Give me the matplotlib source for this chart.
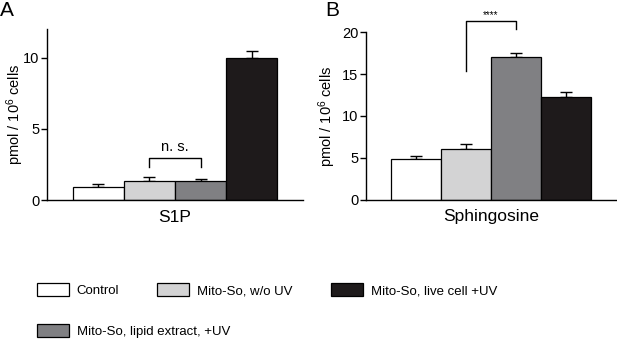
import matplotlib
matplotlib.use("Agg")
import matplotlib.pyplot as plt

plt.rcParams['font.family'] = ['Liberation Sans', 'DejaVu Sans']
plt.rcParams['mathtext.fontset'] = 'custom'
plt.rcParams['mathtext.rm'] = 'Liberation Sans'
plt.rcParams['mathtext.it'] = 'Liberation Sans:italic'
plt.rcParams['mathtext.bf'] = 'Liberation Sans:bold'

# groups / colours
groups = ["Control", "Mito-So, w/o UV", "Mito-So, lipid extract, +UV", "Mito-So, live cell +UV"]
colors = ["#ffffff", "#d3d3d4", "#808083", "#1e1a1b"]

# values (pmol / 10^6 cells)
s1p = [0.93, 1.33, 1.33, 10.0]
s1p_err = [0.17, 0.26, 0.12, 0.46]
sph = [4.83, 6.1, 17.08, 12.29]
sph_err = [0.32, 0.49, 0.52, 0.64]

W, H = 617, 341
fig = plt.figure(figsize=(W / 100, H / 100), dpi=100)


def px_axes(l, r, b, t):
    # pixel box -> figure fraction
    return fig.add_axes([l / W, (H - b) / H, (r - l) / W, (b - t) / H])


def draw_panel(ax, vals, errs, ylim, yticks, xlabel, ypad):
    x = list(range(len(vals)))
    bars = ax.bar(x, vals, width=1.0, color=colors, edgecolor="black", linewidth=0.9, zorder=2)
    ax.errorbar(x, vals, yerr=[[0] * len(errs), errs], fmt="none", ecolor="black",
                elinewidth=1, capsize=4, capthick=1, zorder=1)
    ax.set_xlim(-1.0, 4.0)
    ax.set_ylim(*ylim)
    ax.set_yticks(yticks)
    ax.set_xticks([])
    for s in ["top", "right"]:
        ax.spines[s].set_visible(False)
    ax.spines["left"].set_linewidth(1)
    ax.spines["bottom"].set_linewidth(1)
    ax.tick_params(axis="y", direction="out", length=4, width=1, labelsize=10.5, pad=1.5)
    ax.set_ylabel("pmol / 10$^{\\mathregular{6}}$ cells", fontsize=10.5, labelpad=ypad)
    ax.set_xlabel(xlabel, fontsize=12.5, labelpad=7)
    ax.patch.set_alpha(0)
    return bars


axA = px_axes(47, 303, 200, 29)
barsA = draw_panel(axA, s1p, s1p_err, (0, 12), [0, 5, 10], "S1P", -2)
axA.plot([1, 1, 2, 2], [2.33, 2.94, 2.94, 2.33], color="black", lw=1, clip_on=False)
axA.text(1.5, 3.2, "n. s.", ha="center", va="bottom", fontsize=10.5)

axB = px_axes(366, 616, 199.5, 32.5)
barsB = draw_panel(axB, sph, sph_err, (0, 20), [0, 5, 10, 15, 20], "Sphingosine", 3)
axB.plot([1, 1, 2, 2], [15.4, 21.4, 21.4, 20.4], color="black", lw=1, clip_on=False)
axB.text(1.5, 21.5, "****", ha="center", va="bottom", fontsize=7)

fig.text(0 / W, 1 - 1 / H, "A", fontsize=15, ha="left", va="top")
fig.text(325 / W, 1 - 1 / H, "B", fontsize=15, ha="left", va="top")

# legend: one entry per box, placed like the original
legend_pos = [(37, 290), (157, 290), (37, 331), (331, 290)]
for i, (lx, ly) in enumerate(legend_pos):
    fig.legend([barsA[i]], [groups[i]], loc="center left",
               bbox_to_anchor=(lx / W, (H - ly) / H), frameon=False,
               borderpad=0, borderaxespad=0, handlelength=2.4, handleheight=1.2,
               handletextpad=0.6, fontsize=9.5)

fig.savefig("out.png", dpi=100)
